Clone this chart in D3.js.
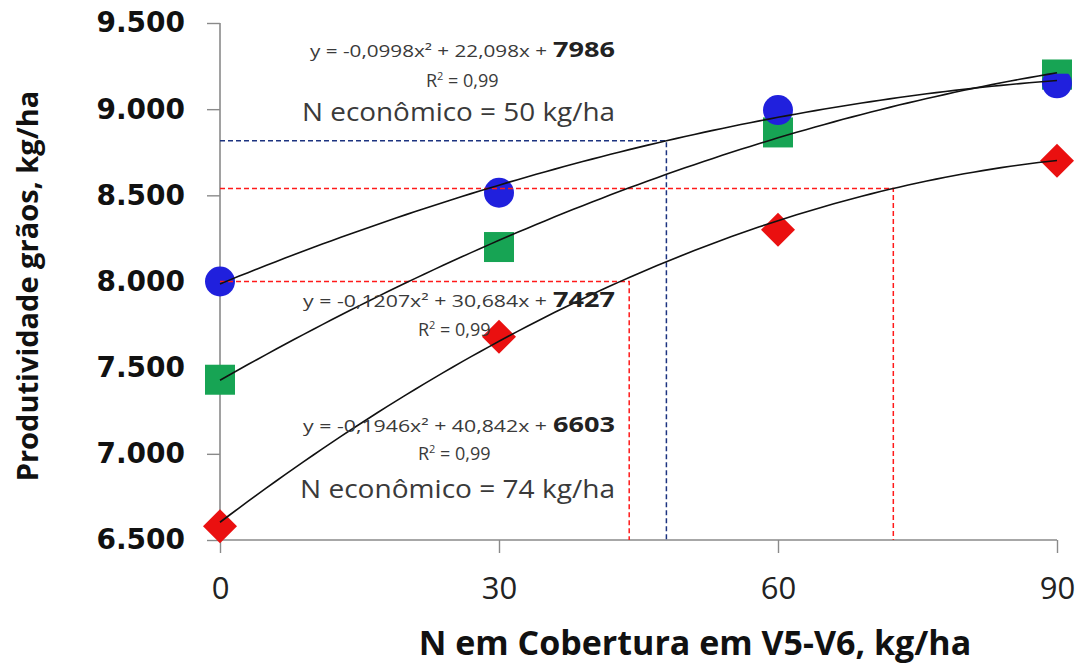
<!DOCTYPE html>
<html>
<head>
<meta charset="utf-8">
<script src="https://cdn.jsdelivr.net/npm/d3@7"></script>
<style>
  body { margin: 0; background: #fff; }
  svg { display: block; }
</style>
</head>
<body>
<div id="chart"></div>
<script>
var w = 1076, h = 666;

// data
var doses = [0, 30, 60, 90];
var yieldBlue = [8000, 8515, 8995, 9150];
var yieldGreen = [7430, 8200, 8865, 9200];
var yieldRed = [6580, 7680, 8300, 8700];
var yTicks = [6500, 7000, 7500, 8000, 8500, 9000, 9500];

// trendline coefficients (a, b, c) from the equations on the chart
var coefBlue = [-0.0998, 22.098, 7986];
var coefGreen = [-0.1207, 30.684, 7427];
var coefRed = [-0.1946, 40.842, 6603];

// guide lines: [x, y] corner points
var guideBlue = [48, 8817];
var guideRed = [72.4, 8540];
var guideRed2 = [44, 8000];

var svg = d3.select("#chart").append("svg")
    .attr("width", w)
    .attr("height", h);

var x = d3.scaleLinear().domain([0, 90]).range([220, 1057]);
var y = d3.scaleLinear().domain([6500, 9500]).range([540, 23]);

// axes
var yAxis = d3.axisLeft(y).tickValues(yTicks).tickSize(13).tickPadding(22)
    .tickFormat(function(d) { return d3.format(",")(d).replace(",", "."); });
var xAxis = d3.axisBottom(x).tickValues(doses).tickSize(13).tickPadding(24);

var gy = svg.append("g").attr("transform", "translate(" + x(0) + ",0)").call(yAxis);
gy.select(".domain").attr("stroke", "#8a8a8a").attr("stroke-width", 1.6).attr("d", "M0," + y(9500) + "V" + y(6500));
gy.selectAll(".tick line").attr("stroke", "#8a8a8a").attr("stroke-width", 1.4);
gy.selectAll(".tick text")
    .attr("font-family", "DejaVu Sans")
    .attr("font-weight", "bold")
    .attr("font-size", 28)
    .attr("fill", "#111");

var gx = svg.append("g").attr("transform", "translate(0," + y(6500) + ")").call(xAxis);
gx.select(".domain").attr("stroke", "#8a8a8a").attr("stroke-width", 1.6).attr("d", "M" + x(0) + ",0H" + x(90));
gx.selectAll(".tick line").attr("stroke", "#8a8a8a").attr("stroke-width", 1.4);
gx.selectAll(".tick text")
    .attr("font-family", "Open Sans")
    .attr("font-size", 31)
    .attr("fill", "#222");

// axis titles
svg.append("text")
    .attr("transform", "translate(38,286) rotate(-90)")
    .attr("text-anchor", "middle")
    .attr("font-family", "Open Sans")
    .attr("font-weight", "bold")
    .attr("font-size", 29)
    .attr("fill", "#111")
    .text("Produtividade grãos, kg/ha");

svg.append("text")
    .attr("x", 695)
    .attr("y", 655)
    .attr("text-anchor", "middle")
    .attr("font-family", "Open Sans")
    .attr("font-weight", "bold")
    .attr("font-size", 34)
    .attr("fill", "#111")
    .text("N em Cobertura em V5-V6, kg/ha");

// markers
var pts = function(vals) {
    return doses.map(function(d, i) { return {x: d, y: vals[i]}; });
};

svg.selectAll(".pt-green")
    .data(pts(yieldGreen))
    .enter().append("rect")
    .attr("class", "pt-green")
    .attr("x", function(d) { return x(d.x) - 15; })
    .attr("y", function(d) { return y(d.y) - 15; })
    .attr("width", 30)
    .attr("height", 30)
    .attr("fill", "#17a454");

svg.selectAll(".pt-blue")
    .data(pts(yieldBlue))
    .enter().append("circle")
    .attr("class", "pt-blue")
    .attr("cx", function(d) { return x(d.x); })
    .attr("cy", function(d) { return y(d.y); })
    .attr("r", 15)
    .attr("fill", "#2020dd");

// the green at 90 sits over the blue
svg.append("rect")
    .attr("x", x(90) - 15)
    .attr("y", y(yieldGreen[3]) - 15)
    .attr("width", 30)
    .attr("height", 14)
    .attr("fill", "#17a454");

svg.selectAll(".pt-red")
    .data(pts(yieldRed))
    .enter().append("path")
    .attr("class", "pt-red")
    .attr("transform", function(d) { return "translate(" + x(d.x) + "," + y(d.y) + ")"; })
    .attr("d", "M0,-17L17,0L0,17L-17,0Z")
    .attr("fill", "#ea1010");

// dashed guides
function guide(p, color) {
    svg.append("path")
        .attr("d", "M" + x(0) + "," + y(p[1]) + "H" + x(p[0]) + "V" + y(6500))
        .attr("fill", "none")
        .attr("stroke", color)
        .attr("stroke-width", 1.5)
        .attr("stroke-dasharray", "5,3");
}
guide(guideBlue, "#1c3380");
guide(guideRed, "#ff1a1a");
guide(guideRed2, "#ff1a1a");

// trendlines
var line = d3.line()
    .x(function(d) { return x(d[0]); })
    .y(function(d) { return y(d[1]); });

function trend(c) {
    var p = d3.range(0, 90.5, 1).map(function(t) {
        return [t, c[0] * t * t + c[1] * t + c[2]];
    });
    svg.append("path")
        .attr("d", line(p))
        .attr("fill", "none")
        .attr("stroke", "#111")
        .attr("stroke-width", 1.6);
}
trend(coefBlue);
trend(coefGreen);
trend(coefRed);

// labels (text is stretched to match the original's wide lettering)
function label(x0, y0, s, size, len, bold) {
    svg.append("text")
        .attr("x", x0)
        .attr("y", y0)
        .attr("font-family", "Open Sans")
        .attr("font-size", size)
        .attr("font-weight", bold ? "bold" : "normal")
        .attr("fill", bold ? "#222" : "#3a3a3a")
        .attr("textLength", len)
        .attr("lengthAdjust", "spacingAndGlyphs")
        .text(s);
}
function equation(x0, y0, eq, big) {
    label(x0, y0, eq, 16.5, 547 - x0, false);
    label(553, y0, big, 22, 62, true);
}
function rsq(x0, y0) {
    var t = svg.append("text")
        .attr("x", x0)
        .attr("y", y0)
        .attr("font-family", "Open Sans")
        .attr("font-size", 18)
        .attr("fill", "#3a3a3a");
    t.append("tspan").text("R");
    t.append("tspan").attr("font-size", 11).attr("dy", -7).text("2");
    t.append("tspan").attr("dy", 7).text(" = 0,99");
}

equation(310, 57, "y = -0,0998x² + 22,098x + ", "7986");
rsq(426, 87);
label(302, 121, "N econômico =  50 kg/ha", 26, 313, false);

equation(303, 307, "y = -0,1207x² + 30,684x + ", "7427");
rsq(418, 336);

equation(303, 432, "y = -0,1946x² + 40,842x + ", "6603");
rsq(418, 460);
label(300, 498, "N econômico = 74 kg/ha", 26, 315, false);
</script>
</body>
</html>
